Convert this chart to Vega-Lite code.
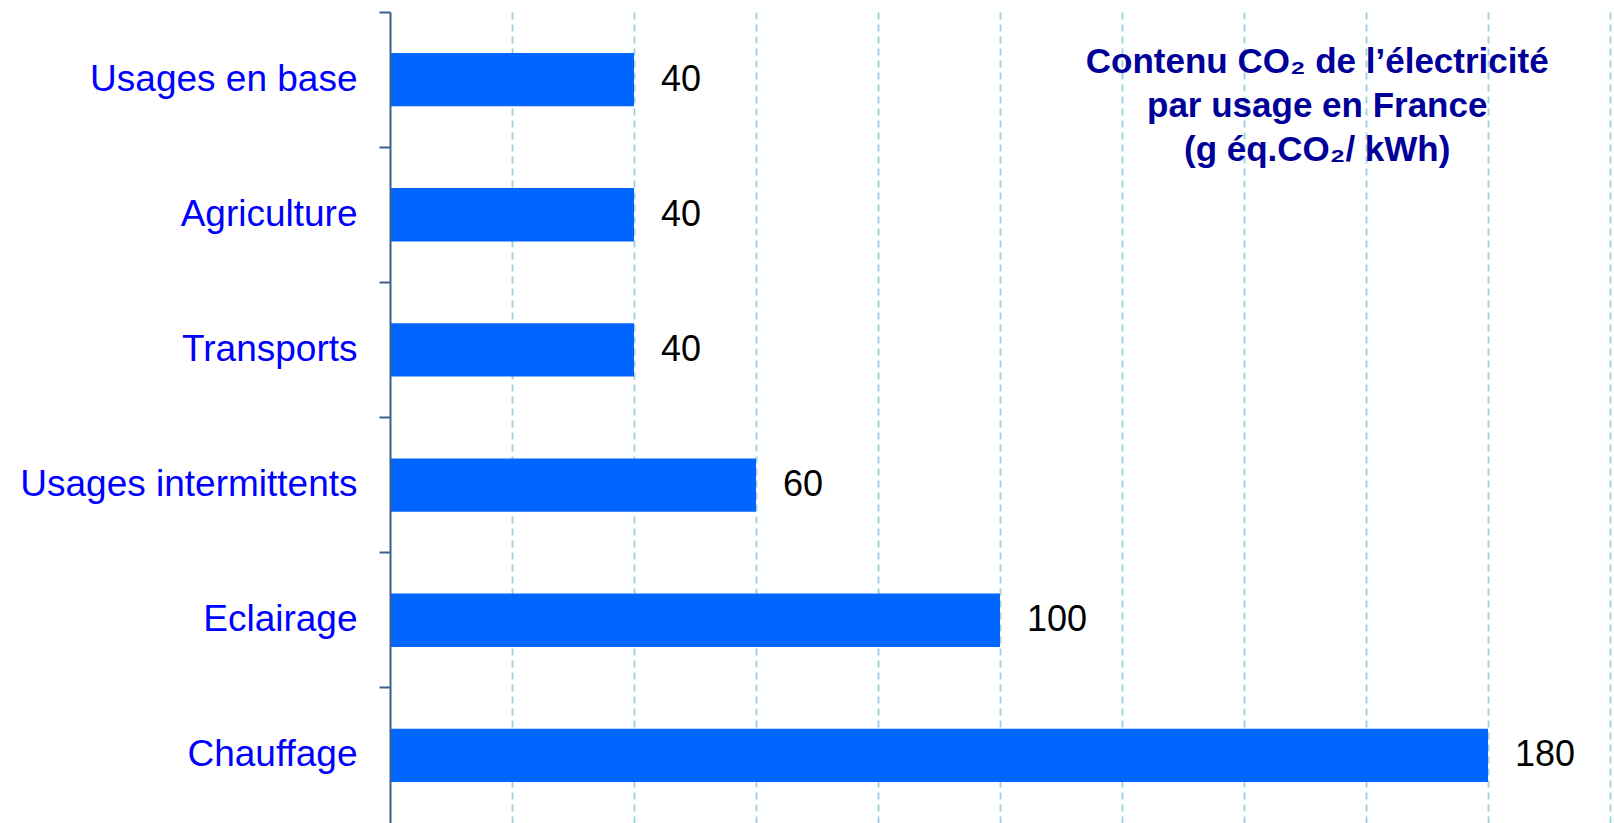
{
  "$schema": "https://vega.github.io/schema/vega-lite/v6.json",
  "width": 1220,
  "height": 811,
  "autosize": {"type": "none"},
  "padding": {"left": 390, "top": 12, "right": 4, "bottom": 0},
  "background": "white",
  "config": {"view": {"stroke": null}, "font": "Liberation Sans"},
  "datasets": {
    "usages": [
      {"usage": "Usages en base", "value": 40},
      {"usage": "Agriculture", "value": 40},
      {"usage": "Transports", "value": 40},
      {"usage": "Usages intermittents", "value": 60},
      {"usage": "Eclairage", "value": 100},
      {"usage": "Chauffage", "value": 180}
    ],
    "titre": [
      {"t": "Contenu CO₂ de l’électricité\npar usage en France\n(g éq.CO₂/ kWh)", "x": 152, "usage": "Usages en base"}
    ]
  },
  "layer": [
    {
      "data": {"name": "usages"},
      "encoding": {
        "y": {
          "field": "usage",
          "type": "nominal",
          "sort": ["Usages en base", "Agriculture", "Transports", "Usages intermittents", "Eclairage", "Chauffage"],
          "scale": {"paddingInner": 0, "paddingOuter": 0},
          "axis": {
            "title": null,
            "domainColor": "#3B5E8C",
            "domainWidth": 2,
            "tickColor": "#3B5E8C",
            "tickWidth": 2,
            "tickSize": 11,
            "bandPosition": 0,
            "labelLimit": 0,
            "labelColor": "#0000FF",
            "labelFont": "Liberation Sans",
            "labelFontSize": 37,
            "labelPadding": 22,
            "zindex": 2
          }
        },
        "x": {
          "field": "value",
          "type": "quantitative",
          "scale": {"domain": [0, 200]},
          "axis": {
            "title": null,
            "values": [20, 40, 60, 80, 100, 120, 140, 160, 180, 200],
            "grid": true,
            "gridColor": "#99D0DE",
            "gridWidth": 1.8,
            "gridDash": [7, 5],
            "domain": false,
            "ticks": false,
            "labels": false
          }
        }
      },
      "layer": [
        {"mark": {"type": "bar", "color": "#0066FF", "height": {"band": 0.395}}},
        {
          "mark": {
            "type": "text",
            "align": "left",
            "baseline": "middle",
            "dx": 27,
            "fontSize": 36,
            "font": "Liberation Sans",
            "color": "#000000"
          },
          "encoding": {"text": {"field": "value", "type": "quantitative"}}
        }
      ]
    },
    {
      "data": {"name": "titre"},
      "mark": {
        "type": "text",
        "align": "center",
        "baseline": "alphabetic",
        "dy": -7,
        "fontSize": 35,
        "fontWeight": "bold",
        "font": "Liberation Sans",
        "lineHeight": 44,
        "lineBreak": "\n",
        "color": "#000099"
      },
      "encoding": {
        "text": {"field": "t", "type": "nominal"},
        "x": {"field": "x", "type": "quantitative"},
        "y": {
          "field": "usage",
          "type": "nominal",
          "sort": ["Usages en base", "Agriculture", "Transports", "Usages intermittents", "Eclairage", "Chauffage"]
        }
      }
    }
  ]
}
